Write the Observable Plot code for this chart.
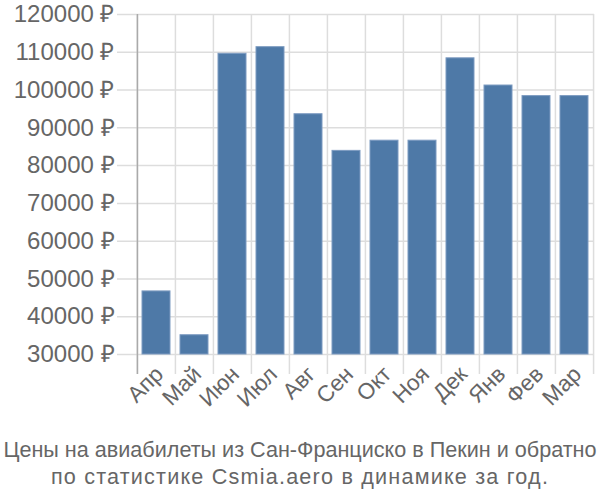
<!DOCTYPE html>
<html>
<head>
<meta charset="utf-8">
<script src="https://cdn.jsdelivr.net/npm/d3@7"></script>
<script src="https://cdn.jsdelivr.net/npm/@observablehq/plot@0.6"></script>
<style>
  html, body { margin: 0; padding: 0; background: #fff; }
  #chart { width: 600px; }
  .caption {
    font-family: "Liberation Sans", Arial, sans-serif;
    font-size: 21.6px;
    color: #666;
    text-align: center;
    line-height: 27px;
    width: 600px;
    margin-top: 6px;
    white-space: nowrap;
  }
  .caption .l2 { letter-spacing: 1.2px; }
</style>
</head>
<body>
<div id="chart"></div>
<div class="caption"><div>Цены на авиабилеты из Сан-Франциско в Пекин и обратно</div><div class="l2">по статистике Csmia.aero в динамике за год.</div></div>
<script>
const months = ["Апр", "Май", "Июн", "Июл", "Авг", "Сен", "Окт", "Ноя", "Дек", "Янв", "Фев", "Мар"];
const prices = [46700, 35100, 109600, 111350, 93600, 83900, 86600, 86600, 108400, 101200, 98400, 98400];
const yTicks = [30000, 40000, 50000, 60000, 70000, 80000, 90000, 100000, 110000, 120000];

const data = months.map((m, i) => ({month: m, price: prices[i]}));

const W = 600, H = 430, mL = 136, mR = 6, mT = 14, mB = 76;
const bw = (W - mL - mR) / months.length;
const gridColor = "#dddddd";

const chart = Plot.plot({
  width: W,
  height: H,
  marginLeft: mL,
  marginRight: mR,
  marginTop: mT,
  marginBottom: mB,
  style: {fontFamily: "'Liberation Sans', Arial, sans-serif", color: "#666", background: "#fff"},
  x: {type: "band", domain: months, padding: 0, label: null},
  y: {domain: [30000, 120000], label: null},
  marks: [
    Plot.ruleY(yTicks, {stroke: gridColor, strokeWidth: 1.5, insetLeft: -19}),
    Plot.ruleX(months, {x: d => d, dx: -bw / 2, stroke: gridColor, strokeWidth: 1.5, insetBottom: -20}),
    Plot.ruleX([months[months.length - 1]], {x: d => d, dx: bw / 2, stroke: gridColor, strokeWidth: 1.5, insetBottom: -20}),
    Plot.barY(data, {x: "month", y1: 30000, y2: "price", fill: "#4e79a7", stroke: "#7d9bc1", strokeWidth: 1, insetLeft: 5, insetRight: 5}),
    Plot.ruleX([months[0]], {x: d => d, dx: -bw / 2, stroke: "#aaaaaa", strokeWidth: 1.5, insetBottom: -20}),
    Plot.axisY({ticks: yTicks, tickSize: 0, tickPadding: 22, tickFormat: d => d + " ₽", fontSize: 24, fill: "#666"}),
    Plot.axisX({tickSize: 0, tickPadding: 16, tickRotate: -45, fontSize: 22.5, fill: "#666", dx: 3})
  ]
});
document.getElementById("chart").appendChild(chart);
</script>
</body>
</html>
